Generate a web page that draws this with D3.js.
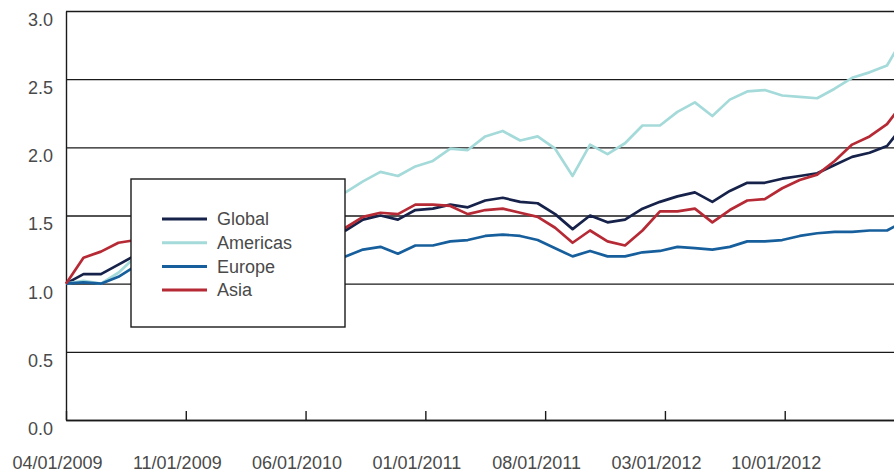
<!DOCTYPE html>
<html>
<head>
<meta charset="utf-8">
<script src="https://cdn.jsdelivr.net/npm/d3@7"></script>
<style>
	body { margin: 0; background: #fff; }
	svg { display: block; font-family: 'Liberation Sans', Arial, sans-serif; }
</style>
</head>
<body>
<script>
// Monthly index values (04/2009 = 1.0)
const tickLabels = ['04/01/2009', '11/01/2009', '06/01/2010', '01/01/2011', '08/01/2011', '03/01/2012', '10/01/2012']
const seriesNames = ['Global', 'Americas', 'Europe', 'Asia']
const seriesColors = ['#16224a', '#a4dad9', '#165f9c', '#b62a35']

const globalValues = [1.00, 1.07, 1.07, 1.14, 1.21, 1.25, 1.27, 1.30, 1.28, 1.32, 1.33, 1.36, 1.35, 1.33, 1.37, 1.36,
	1.39, 1.47, 1.50, 1.47, 1.54, 1.55, 1.58, 1.56, 1.61, 1.63, 1.60, 1.59, 1.51, 1.40, 1.50,
	1.45, 1.47, 1.55, 1.60, 1.64, 1.67, 1.60, 1.68, 1.74, 1.74, 1.77, 1.79, 1.81, 1.87, 1.93, 1.96, 2.01, 2.17]
const americasValues = [1.00, 1.02, 1.00, 1.08, 1.20, 1.27, 1.30, 1.36, 1.40, 1.38, 1.45, 1.50, 1.48, 1.55, 1.58, 1.62,
	1.67, 1.75, 1.82, 1.79, 1.86, 1.90, 1.99, 1.98, 2.08, 2.12, 2.05, 2.08, 1.99, 1.79, 2.02,
	1.95, 2.03, 2.16, 2.16, 2.26, 2.33, 2.23, 2.35, 2.41, 2.42, 2.38, 2.37, 2.36, 2.43, 2.51, 2.55, 2.60, 2.82]
const europeValues = [1.00, 1.01, 1.00, 1.05, 1.13, 1.17, 1.16, 1.18, 1.15, 1.14, 1.16, 1.15, 1.17, 1.16, 1.18, 1.17,
	1.20, 1.25, 1.27, 1.22, 1.28, 1.28, 1.31, 1.32, 1.35, 1.36, 1.35, 1.32, 1.26, 1.20, 1.24,
	1.20, 1.20, 1.23, 1.24, 1.27, 1.26, 1.25, 1.27, 1.31, 1.31, 1.32, 1.35, 1.37, 1.38, 1.38, 1.39, 1.39, 1.46]
const asiaValues = [1.00, 1.19, 1.235, 1.30, 1.32, 1.35, 1.33, 1.36, 1.30, 1.28, 1.32, 1.30, 1.33, 1.36, 1.35, 1.37,
	1.41, 1.49, 1.52, 1.51, 1.58, 1.58, 1.57, 1.51, 1.54, 1.55, 1.52, 1.49, 1.41, 1.30, 1.39,
	1.31, 1.28, 1.39, 1.53, 1.53, 1.55, 1.45, 1.54, 1.61, 1.62, 1.70, 1.76, 1.80, 1.90, 2.02, 2.08, 2.17, 2.34]
const yTicks = [0, 0.5, 1.0, 1.5, 2.0, 2.5, 3.0]

const series = [globalValues, americasValues, europeValues, asiaValues].map((values, i) => ({
	name: seriesNames[i],
	color: seriesColors[i],
	values: values
}))

// Afmetingen
const totalWidth = 894
const totalHeight = 473
const margin = { top: 11, left: 66, bottom: 53 }
const height = totalHeight - margin.top - margin.bottom
const nSteps = 48
const plotWidth = 838.5 // runs past the right edge, gets clipped

const svg = d3
	.select('body')
	.append('svg')
	.attr('width', totalWidth)
	.attr('height', totalHeight)

const g = svg.append('g').attr('transform', `translate(${margin.left},${margin.top})`)

// Scales
const xscale = d3.scaleLinear().domain([0, nSteps]).range([0, plotWidth])
const yscale = d3.scaleLinear().domain([0, 3]).range([height, 0])

// y axis + gridlines
const yaxis = d3
	.axisLeft(yscale)
	.tickValues(yTicks)
	.tickSize(-plotWidth)
	.tickSizeOuter(0)
	.tickPadding(13)
	.tickFormat(d3.format('.1f'))
const g_yaxis = g.append('g').attr('class', 'y axis').call(yaxis)
g_yaxis.selectAll('line').attr('stroke', '#1a1a1a').attr('stroke-width', 1.4)
g_yaxis.select('.domain').attr('stroke', '#1a1a1a').attr('stroke-width', 1.4)
g_yaxis
	.selectAll('text')
	.attr('dy', '0.8em')
	.attr('fill', '#4a4a4a')
	.style('font-size', '18px')

// x axis with inward ticks
const tickPositions = tickLabels.map((d, i) => (i * nSteps) / 7)
const xaxis = d3
	.axisBottom(xscale)
	.tickValues(tickPositions)
	.tickSize(-9)
	.tickSizeOuter(0)
	.tickPadding(36)
	.tickFormat((d, i) => tickLabels[i])
const g_xaxis = g.append('g').attr('class', 'x axis').attr('transform', `translate(0,${height})`).call(xaxis)
g_xaxis.selectAll('line').attr('stroke', '#1a1a1a').attr('stroke-width', 1.4)
g_xaxis.select('.domain').attr('stroke', '#1a1a1a').attr('stroke-width', 1.4)
g_xaxis
	.selectAll('text')
	.attr('dx', -9)
	.attr('fill', '#4a4a4a')
	.style('font-size', '18px')

// Lines
const line = d3
	.line()
	.x((d, i) => xscale(i))
	.y(d => yscale(d))

g.selectAll('path.series')
	.data(series)
	.join('path')
	.attr('class', 'series')
	.attr('fill', 'none')
	.attr('stroke', d => d.color)
	.attr('stroke-width', 2.7)
	.attr('stroke-linejoin', 'round')
	.attr('d', d => line(d.values))

// Legend box (covers the lines behind it)
const legend = svg.append('g').attr('transform', 'translate(131,179)')
legend
	.append('rect')
	.attr('width', 214)
	.attr('height', 148)
	.attr('fill', '#fff')
	.attr('stroke', '#1a1a1a')
	.attr('stroke-width', 1.4)

const items = legend
	.selectAll('g.item')
	.data(series)
	.join('g')
	.attr('class', 'item')
	.attr('transform', (d, i) => `translate(31,${40 + i * 23.7})`)

items
	.append('line')
	.attr('x1', 0)
	.attr('x2', 45)
	.attr('stroke', d => d.color)
	.attr('stroke-width', 3)

items
	.append('text')
	.attr('x', 55)
	.attr('dy', '0.35em')
	.attr('fill', '#4a4a4a')
	.style('font-size', '18px')
	.text(d => d.name)
</script>
</body>
</html>
